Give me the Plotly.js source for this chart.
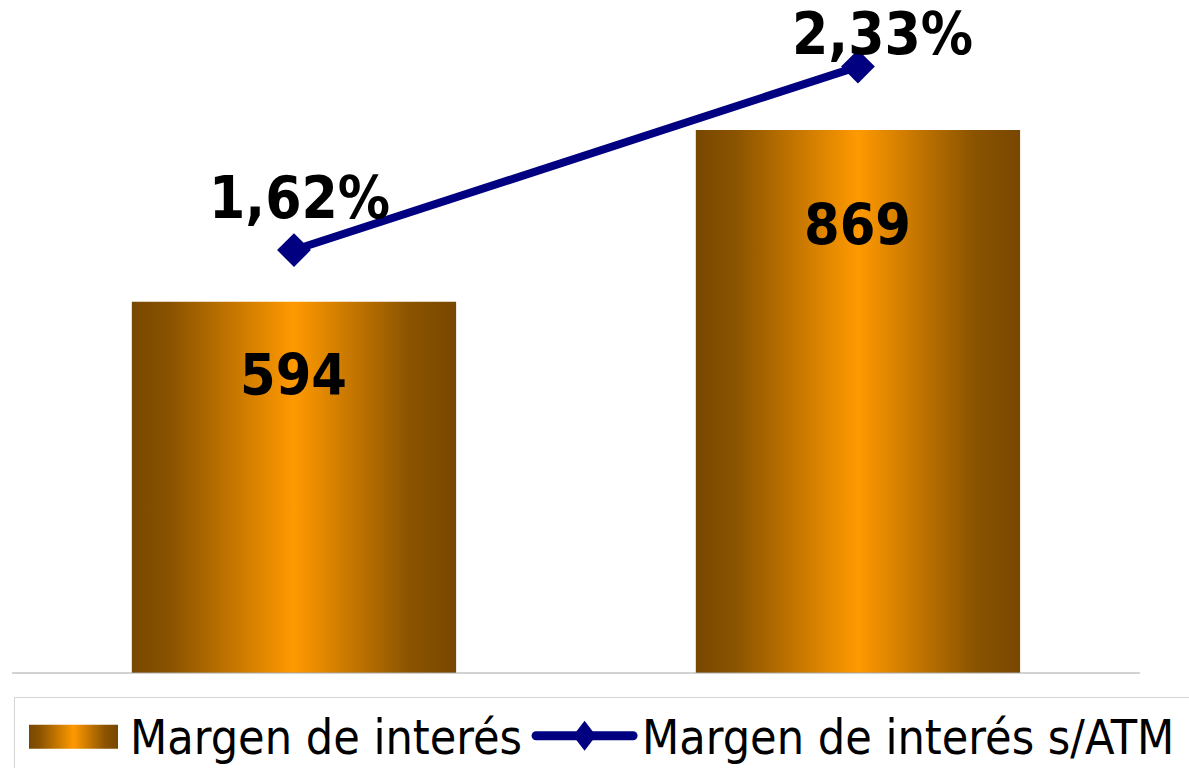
<!DOCTYPE html>
<html><head><meta charset="utf-8">
<script src="https://cdn.plot.ly/plotly-3.0.1.min.js"></script>
<style>html,body{margin:0;padding:0;background:#fff;}#chart{width:1189px;height:768px;}</style>
</head><body><div id="chart"></div>
<script>
// ---- data ----
const categories = ['Periodo 1', 'Periodo 2'];
const margenInteres = [594, 869];
const margenATM = [1.62, 2.33];
const barLabels = ['594', '869'];
const pctLabels = ['1,62%', '2,33%'];
const seriesNames = ['Margen de interés', 'Margen de interés s/ATM'];

// ---- styles / offsets ----
const FONT = 'DejaVu Sans Condensed, DejaVu Sans, Verdana, sans-serif';
const barLabelShift = [-73, -95];
const pctShiftX = [6, 25];
const pctShiftY = [52, 33];

const data = [
  {type:'bar', x:categories, y:margenInteres, name:seriesNames[0],
   marker:{color:'#ff9900', line:{width:0}}, hoverinfo:'skip'},
  {type:'scatter', mode:'lines+markers', x:categories, y:margenATM, yaxis:'y2', name:seriesNames[1],
   line:{color:'#000080', width:8}, marker:{symbol:'diamond', size:26, color:'#000080'}, hoverinfo:'skip'}
];

const annotations = [];
categories.forEach((c, i) => {
  annotations.push({x:c, y:margenInteres[i], xref:'x', yref:'y', text:barLabels[i], showarrow:false,
    xanchor:'center', yanchor:'middle', yshift:barLabelShift[i],
    font:{family:FONT, size:57, color:'#000', weight:'bold'}});
  annotations.push({x:c, y:margenATM[i], xref:'x', yref:'y2', text:pctLabels[i], showarrow:false,
    xanchor:'center', yanchor:'middle', xshift:pctShiftX[i], yshift:pctShiftY[i],
    font:{family:FONT, size:58, color:'#000', weight:'bold'}});
});

const layout = {
  width:1189, height:768,
  margin:{l:12, r:0, t:48, b:95, autoexpand:false},
  paper_bgcolor:'#ffffff', plot_bgcolor:'#ffffff',
  showlegend:true,
  legend:{orientation:'h', x:0.0017, xanchor:'left', y:-0.0384, yanchor:'top',
    bgcolor:'#ffffff', bordercolor:'#d6d6d6', borderwidth:1, itemwidth:105, traceorder:'normal',
    font:{family:FONT, size:48, color:'#000'}},
  bargap:0.425,
  xaxis:{type:'category', range:[-0.5,1.587], showline:false,
    showticklabels:false, ticks:'', showgrid:false, zeroline:false},
  yaxis:{range:[0,1000], visible:false, showgrid:false, zeroline:false},
  yaxis2:{range:[-0.017,2.402], overlaying:'y', side:'right', visible:false, showgrid:false, zeroline:false},
  shapes:[{type:'line', xref:'x', yref:'paper', x0:-0.5, x1:1.5, y0:0, y1:0,
    line:{color:'#a6a6a6', width:1}, layer:'above'}],
  annotations:annotations
};

Plotly.newPlot('chart', data, layout, {staticPlot:true, displayModeBar:false}).then(gd => {
  const ns = 'http://www.w3.org/2000/svg';
  const svg = gd.querySelector('svg.main-svg');
  let defs = svg.querySelector('defs');
  const grad = document.createElementNS(ns, 'linearGradient');
  grad.setAttribute('id', 'barGrad');
  grad.setAttribute('x1', '0'); grad.setAttribute('y1', '0');
  grad.setAttribute('x2', '1'); grad.setAttribute('y2', '0');
  [[0,'#784700'],[0.12,'#8a5300'],[0.5,'#ff9900'],[0.86,'#8a5300'],[1,'#784700']].forEach(s => {
    const st = document.createElementNS(ns, 'stop');
    st.setAttribute('offset', s[0]); st.setAttribute('stop-color', s[1]);
    grad.appendChild(st);
  });
  defs.appendChild(grad);
  gd.querySelectorAll('.barlayer .point path').forEach(p => { p.style.fill = 'url(#barGrad)'; });
  const bg = gd.querySelector('.legend rect.bg');
  if (bg) { bg.setAttribute('width', 1400); bg.setAttribute('height', 400); }
  const traces = gd.querySelectorAll('.legend .traces');
  if (traces[0]) {
    traces[0].querySelectorAll('.legendpoints path').forEach(p => {
      p.setAttribute('d', 'M-43.5,-11h89v24h-89Z');
      p.style.fill = 'url(#barGrad)';
      p.style.stroke = 'none';
    });
  }
  if (traces[1]) {
    traces[1].querySelectorAll('.legendlines path').forEach(p => {
      p.setAttribute('d', 'M9,0H106');
      p.style.strokeWidth = '9px';
      p.style.strokeLinecap = 'round';
    });
    traces[1].querySelectorAll('.legendpoints path').forEach(p => {
      p.setAttribute('d', 'M-11.5,0L0,-15L11.5,0L0,15Z');
      p.style.strokeWidth = '0px';
    });
  }
});
</script>
</body></html>
